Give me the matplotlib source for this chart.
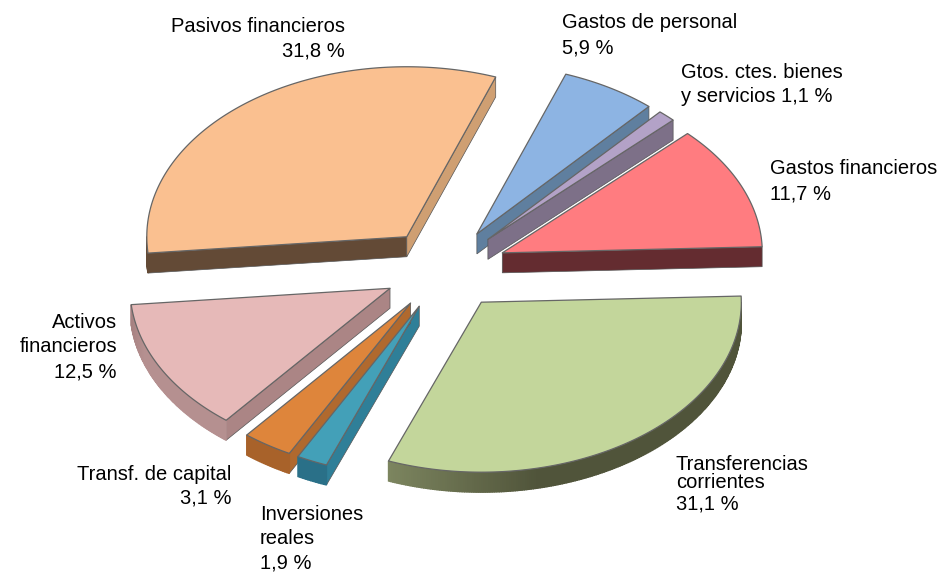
import numpy as np
import matplotlib
matplotlib.use("Agg")
import matplotlib.pyplot as plt

# data, clockwise from Gastos de personal
names = ["Gastos de personal", "Gtos. ctes. bienes y servicios", "Gastos financieros",
         "Transferencias corrientes", "Inversiones reales", "Transf. de capital",
         "Activos financieros", "Pasivos financieros"]
values = [5.9, 1.1, 11.7, 31.1, 1.9, 3.1, 12.5, 31.8]

top_colors = ["#8db4e3", "#b3a2c7", "#ff7c80", "#c3d69b", "#43a0b8", "#de853b", "#e6b9b8", "#fac090"]
# wall under the edge at the higher / lower angle, rim colour along the arc
hi_walls = ["#5f7f9f", "#7d7088", "#642c30", "#7d8660", "#2f7f98", "#b0692e", "#ab8585", "#634a36"]
lo_walls = ["#5f7f9f", "#7d7088", "#642c30", "#55583c", "#2f7f98", "#b0692e", "#ab8585", "#cf9f72"]
rim_a = ["#5f7f9f", "#7d7088", "#642c30", "#50543a", "#2a7088", "#a8622a", "#b59090", "#634a36"]
rim_b = ["#5f7f9f", "#7d7088", "#642c30", "#7d8660", "#2a7088", "#a8622a", "#a58080", "#634a36"]

label_lines = [
    ("Pasivos financieros", 345, 27, "right"), ("31,8 %", 345, 51, "right"),
    ("Gastos de personal", 562, 23, "left"), ("5,9 %", 562, 48, "left"),
    ("Gtos. ctes. bienes", 681, 73, "left"), ("y servicios 1,1 %", 681, 97, "left"),
    ("Gastos financieros", 770, 169, "left"), ("11,7 %", 770, 194, "left"),
    ("Transferencias", 676, 464, "left"), ("corrientes", 676, 482, "left"), ("31,1 %", 676, 504, "left"),
    ("Inversiones", 260, 514, "left"), ("reales", 260, 538, "left"), ("1,9 %", 260, 563, "left"),
    ("Transf. de capital", 231, 475, "right"), ("3,1 %", 231, 498, "right"),
    ("Activos", 117, 322, "right"), ("financieros", 117, 346, "right"), ("12,5 %", 117, 372, "right"),
]

# pie geometry in pixels
cx, cy = 445, 269
rx, ry = 260, 170
depth = 20
explode = 0.24
start_angle = 70

plt.rcParams["font.family"] = ["Liberation Sans", "DejaVu Sans"]
fig = plt.figure(figsize=(9.4, 5.74), dpi=100)
ax = fig.add_axes([0, 0, 1, 1])
ax.set_xlim(0, 940)
ax.set_ylim(574, 0)
ax.axis("off")


def blend(c1, c2, t):
    a = np.array(matplotlib.colors.to_rgb(c1))
    b = np.array(matplotlib.colors.to_rgb(c2))
    return tuple(a + (b - a) * t)


def pt(ox, oy, ang):
    r = np.radians(ang)
    return ox + rx * np.cos(r), oy - ry * np.sin(r)


# the printed percentages add up to 99.1, so the slices are scaled to the full circle
total = sum(values)
angle = start_angle
for i, v in enumerate(values):
    hi = angle
    lo = angle - v / total * 360
    angle = lo
    mid = np.radians((hi + lo) / 2)
    ox = cx + explode * rx * np.cos(mid)
    oy = cy - explode * ry * np.sin(mid)

    # cut faces, only those turned to the viewer
    if np.cos(np.radians(hi)) < 0:
        ex, ey = pt(ox, oy, hi)
        ax.fill([ox, ex, ex, ox], [oy, ey, ey + depth, oy + depth], fc=hi_walls[i], ec="#555555", lw=0.5, zorder=2)
    if np.cos(np.radians(lo)) > 0:
        ex, ey = pt(ox, oy, lo)
        ax.fill([ox, ex, ex, ox], [oy, ey, ey + depth, oy + depth], fc=lo_walls[i], ec="#555555", lw=0.5, zorder=2)

    # outer rim as small quads so the shade can change along it
    arc = np.linspace(hi, lo, max(int(hi - lo) * 2, 2))
    for j in range(len(arc) - 1):
        if np.sin(np.radians(arc[j])) > 0 and np.sin(np.radians(arc[j + 1])) > 0:
            continue
        x0, y0 = pt(ox, oy, arc[j])
        x1, y1 = pt(ox, oy, arc[j + 1])
        col = blend(rim_a[i], rim_b[i], max((j / len(arc) - 0.7) / 0.3, 0))
        ax.fill([x0, x1, x1, x0], [y0, y1, y1 + depth, y0 + depth], fc=col, ec=col, lw=1.0, zorder=3)

    # top face
    arc = np.linspace(hi, lo, 120)
    xs = [ox] + [pt(ox, oy, a)[0] for a in arc]
    ys = [oy] + [pt(ox, oy, a)[1] for a in arc]
    ax.fill(xs, ys, fc=top_colors[i], ec="#666666", lw=0.9, joinstyle="round", zorder=4)

for txt, x, y, ha in label_lines:
    ax.text(x, y, txt, ha=ha, va="center", fontsize=14.5, color="black", clip_on=True, zorder=5)

fig.savefig("out.png", dpi=100)
